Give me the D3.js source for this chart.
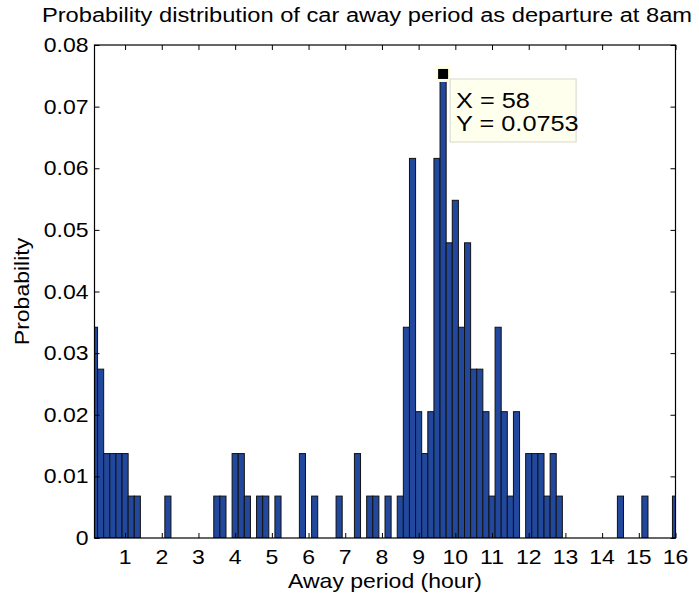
<!DOCTYPE html>
<html>
<head>
<meta charset="utf-8">
<script src="https://cdn.jsdelivr.net/npm/d3@7"></script>
<style>
  html, body { margin: 0; padding: 0; background: #fff; }
  svg { display: block; }
  text { font-family: "Liberation Sans", Arial, Helvetica, sans-serif; fill: #000; }
</style>
</head>
<body>
<svg id="chart" width="699" height="598"></svg>
<script>
// Away-period histogram: 10-minute bins (bin index k covers k/6 hours); empty bins omitted.
const binIndex = [1, 2, 3, 4, 5, 6, 7, 8, 13, 21, 22, 24, 25, 26, 28, 29, 31, 35, 37, 41,
  44, 46, 47, 49, 51, 52, 53, 54, 55, 56, 57, 58, 59, 60, 61, 62, 63, 64, 65, 66,
  67, 68, 69, 70, 72, 73, 74, 75, 76, 77, 87, 91, 96];
const probability = [0.0342, 0.0274, 0.0137, 0.0137, 0.0137, 0.0137, 0.0068, 0.0068, 0.0068, 0.0068,
  0.0068, 0.0137, 0.0137, 0.0068, 0.0068, 0.0068, 0.0068, 0.0137, 0.0068, 0.0068,
  0.0137, 0.0068, 0.0068, 0.0068, 0.0068, 0.0342, 0.0616, 0.0205, 0.0137, 0.0205,
  0.0616, 0.0753, 0.0479, 0.0548, 0.0342, 0.0479, 0.0274, 0.0274, 0.0205, 0.0068,
  0.0342, 0.0205, 0.0068, 0.0205, 0.0137, 0.0137, 0.0137, 0.0068, 0.0137, 0.0068,
  0.0068, 0.0068, 0.0068];
const binsPerHour = 6;
const xTicks = [1, 2, 3, 4, 5, 6, 7, 8, 9, 10, 11, 12, 13, 14, 15, 16];
const yTicks = [0, 0.01, 0.02, 0.03, 0.04, 0.05, 0.06, 0.07, 0.08];
const markedBin = 58;

const titleText = "Probability distribution of car away period as departure at 8am";
const xLabelText = "Away period (hour)";
const yLabelText = "Probability";

const svg = d3.select("#chart");
const plot = { left: 94.5, right: 675.5, top: 45, bottom: 538 };

const x = d3.scaleLinear().domain([1 / binsPerHour, 16]).range([plot.left, plot.right]);
const y = d3.scaleLinear().domain([0, 0.08]).range([plot.bottom, plot.top]);

const bars = binIndex.map((b, i) => ({ bin: b, hours: b / binsPerHour, p: probability[i] }));
const binW = x(2 / binsPerHour) - x(1 / binsPerHour);

svg.append("defs").append("clipPath").attr("id", "plotClip")
  .append("rect")
  .attr("x", plot.left).attr("y", plot.top)
  .attr("width", plot.right - plot.left).attr("height", plot.bottom - plot.top);

// bars
svg.append("g").attr("clip-path", "url(#plotClip)")
  .selectAll("rect").data(bars).join("rect")
  .attr("x", d => x(d.hours) - binW / 2)
  .attr("y", d => y(d.p))
  .attr("width", binW)
  .attr("height", d => y(0) - y(d.p))
  .attr("fill", "#22489e")
  .attr("stroke", "#111")
  .attr("stroke-width", 1);

// axes: ticks point inward on all four sides
const tickLen = 5;
const fontSize = 20;
const stretch = 1.15;

function stretchedText(g, tx, ty, str, anchor, size, rotate) {
  const t = g.append("g").attr("transform",
    `translate(${tx},${ty})` + (rotate ? ` rotate(${rotate})` : "") + ` scale(${stretch},1)`);
  t.append("text").attr("text-anchor", anchor).attr("font-size", size).text(str);
  return t;
}

const axisG = svg.append("g");

const xBottom = d3.axisBottom(x).tickValues(xTicks).tickSizeInner(-tickLen).tickSizeOuter(0).tickFormat("");
const xTop = d3.axisTop(x).tickValues(xTicks).tickSizeInner(-tickLen).tickSizeOuter(0).tickFormat("");
const yLeft = d3.axisLeft(y).tickValues(yTicks).tickSizeInner(-tickLen).tickSizeOuter(0).tickFormat("");
const yRight = d3.axisRight(y).tickValues(yTicks).tickSizeInner(-tickLen).tickSizeOuter(0).tickFormat("");

axisG.append("g").attr("transform", `translate(0,${plot.bottom})`).call(xBottom);
axisG.append("g").attr("transform", `translate(0,${plot.top})`).call(xTop);
axisG.append("g").attr("transform", `translate(${plot.left},0)`).call(yLeft);
axisG.append("g").attr("transform", `translate(${plot.right},0)`).call(yRight);
axisG.selectAll(".domain").remove();
axisG.selectAll(".tick line").attr("stroke", "#000").attr("stroke-width", 1);

// frame
svg.append("rect")
  .attr("x", plot.left).attr("y", plot.top)
  .attr("width", plot.right - plot.left).attr("height", plot.bottom - plot.top)
  .attr("fill", "none").attr("stroke", "#000").attr("stroke-width", 1.2);

// tick labels
const labels = svg.append("g");
xTicks.forEach(v => stretchedText(labels, x(v), plot.bottom + 26, String(v), "middle", fontSize));
yTicks.forEach(v => stretchedText(labels, plot.left - 6, y(v) + 7, v === 0 ? "0" : d3.format(".2f")(v), "end", fontSize));

// titles
stretchedText(svg, 367, 22, titleText, "middle", 20.6);
stretchedText(svg, (plot.left + plot.right) / 2, 588, xLabelText, "middle", fontSize);
stretchedText(svg, 29, (plot.top + plot.bottom) / 2, yLabelText, "middle", fontSize, -90);

// data tip on the selected bin
const tip = bars.find(d => d.bin === markedBin);
const tx = x(tip.hours), ty = y(tip.p);
const tipG = svg.append("g");
tipG.append("rect")
  .attr("x", tx - 8).attr("y", ty - 8).attr("width", 16).attr("height", 16)
  .attr("fill", "#ffffe6");
tipG.append("rect")
  .attr("x", tx - 5).attr("y", ty - 5).attr("width", 10).attr("height", 10)
  .attr("fill", "#000");
const boxX = tx + 7, boxY = ty + 5;
tipG.append("rect")
  .attr("x", boxX).attr("y", boxY).attr("width", 126).attr("height", 63)
  .attr("fill", "#ffffee").attr("stroke", "#d8d8c8").attr("stroke-width", 1);
stretchedText(tipG, boxX + 6, boxY + 29, `X = ${tip.bin}`, "start", 22);
stretchedText(tipG, boxX + 6, boxY + 52, `Y = ${d3.format(".4f")(tip.p)}`, "start", 22);
</script>
</body>
</html>
